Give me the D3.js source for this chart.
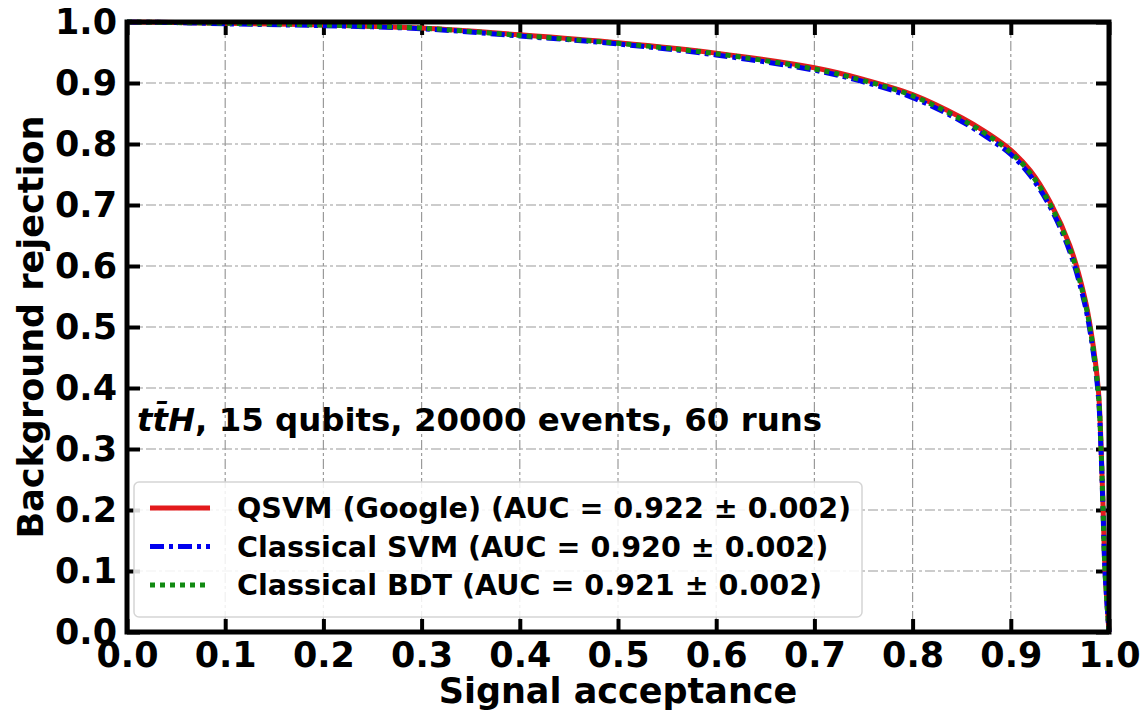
<!DOCTYPE html>
<html>
<head>
<script src="https://d3js.org/d3.v7.min.js"></script>
<style>
  body, html { margin: 0; background: #fff; }
  text { font-family: 'DejaVu Sans', sans-serif; font-weight: bold; fill: #000; }
  .grid line { stroke: #9a9a9a; stroke-width: 1.2px; stroke-dasharray: 10,3,3,3; }
</style>
</head>
<body>
<div id="chart"></div>
<script>
// signal acceptance (x) and background rejection (y)
var accept = [0, 0.05, 0.1, 0.2, 0.3, 0.4, 0.5, 0.6, 0.7, 0.75, 0.8, 0.85, 0.875, 0.9, 0.92, 0.94, 0.96, 0.975, 0.982, 0.989, 0.992, 0.994, 0.996, 1.0];
var qsvm = [1.0, 0.999, 0.998, 0.995, 0.990, 0.979, 0.966, 0.949, 0.925, 0.906, 0.881, 0.843, 0.819, 0.790, 0.756, 0.705, 0.634, 0.550, 0.490, 0.400, 0.302, 0.202, 0.102, 0.0];
var csvm = [1.0, 0.999, 0.997, 0.994, 0.989, 0.977, 0.964, 0.946, 0.921, 0.902, 0.876, 0.837, 0.812, 0.783, 0.748, 0.697, 0.624, 0.540, 0.480, 0.390, 0.293, 0.195, 0.097, 0.0];
var cbdt = [1.0, 0.999, 0.998, 0.995, 0.990, 0.978, 0.965, 0.948, 0.923, 0.904, 0.879, 0.840, 0.816, 0.786, 0.752, 0.701, 0.629, 0.545, 0.485, 0.395, 0.297, 0.198, 0.099, 0.0];
var seriesNames = ["QSVM (Google) (AUC = 0.922 \u00b1 0.002)",
                   "Classical SVM (AUC = 0.920 \u00b1 0.002)",
                   "Classical BDT (AUC = 0.921 \u00b1 0.002)"];
var ticks = [0, 0.1, 0.2, 0.3, 0.4, 0.5, 0.6, 0.7, 0.8, 0.9, 1.0];

var W = 1141, H = 712;
var pL = 127, pR = 1109, pT = 22, pB = 632;

var svg = d3.select("#chart").append("svg").attr("width", W).attr("height", H);

var x = d3.scaleLinear().domain([0, 1]).range([pL, pR]);
var y = d3.scaleLinear().domain([0, 1]).range([pB, pT]);

// grid
var grid = svg.append("g").attr("class", "grid");
grid.selectAll(".gx").data(ticks.slice(1, -1)).enter().append("line")
  .attr("x1", d => x(d)).attr("x2", d => x(d)).attr("y1", pT).attr("y2", pB);
grid.selectAll(".gy").data(ticks.slice(1, -1)).enter().append("line")
  .attr("y1", d => y(d)).attr("y2", d => y(d)).attr("x1", pL).attr("x2", pR);

// axes with inward ticks
var tickSize = 13;
function styleAxis(g) {
  g.select(".domain").remove();
  g.selectAll(".tick line").attr("stroke", "#000").attr("stroke-width", 4);
  g.selectAll(".tick text").attr("font-size", 35).attr("font-family", "'DejaVu Sans', sans-serif").attr("font-weight", "bold").attr("fill", "#000");
}
var fmt = d3.format(".1f");
svg.append("g").attr("transform", "translate(0," + pB + ")")
  .call(d3.axisBottom(x).tickValues(ticks).tickFormat(fmt).tickSizeInner(-tickSize).tickSizeOuter(0).tickPadding(10))
  .call(styleAxis);
svg.append("g").attr("transform", "translate(" + pL + ",0)")
  .call(d3.axisLeft(y).tickValues(ticks).tickFormat(fmt).tickSizeInner(-tickSize).tickSizeOuter(0).tickPadding(10))
  .call(styleAxis);
svg.append("g").attr("transform", "translate(0," + pT + ")")
  .call(d3.axisTop(x).tickValues(ticks).tickFormat("").tickSizeInner(-tickSize).tickSizeOuter(0))
  .call(styleAxis);
svg.append("g").attr("transform", "translate(" + pR + ",0)")
  .call(d3.axisRight(y).tickValues(ticks).tickFormat("").tickSizeInner(-tickSize).tickSizeOuter(0))
  .call(styleAxis);

// curves
var styles = [
  {color: "#e31a1c", dash: null},
  {color: "#0000ee", dash: "14,5,4,5"},
  {color: "#128a12", dash: "5,5"}
];
var series = [qsvm, csvm, cbdt];
var line = d3.line().x(d => x(d[0])).y(d => y(d[1])).curve(d3.curveCatmullRom.alpha(0.5));
series.forEach(function(s, i) {
  svg.append("path")
    .datum(accept.map((a, j) => [a, s[j]]))
    .attr("d", line)
    .attr("fill", "none")
    .attr("stroke", styles[i].color)
    .attr("stroke-width", 5)
    .attr("stroke-dasharray", styles[i].dash);
});

// frame
svg.append("rect").attr("x", pL).attr("y", pT)
  .attr("width", pR - pL).attr("height", pB - pT)
  .attr("fill", "none").attr("stroke", "#000").attr("stroke-width", 5);

// annotation
var ann = svg.append("text").attr("x", 137).attr("y", 431).attr("font-size", 32.4);
ann.append("tspan").attr("font-style", "italic").text("tt\u0304H");
ann.append("tspan").text(", 15 qubits, 20000 events, 60 runs");

// legend
var lg = svg.append("g");
lg.append("rect").attr("x", 134).attr("y", 482).attr("width", 728).attr("height", 135)
  .attr("rx", 5).attr("fill", "#fff").attr("fill-opacity", 0.85)
  .attr("stroke", "#d5d5d5").attr("stroke-width", 1.5);
seriesNames.forEach(function(n, i) {
  var yy = 508 + i * 38.5;
  lg.append("line").attr("x1", 150).attr("x2", 210).attr("y1", yy).attr("y2", yy)
    .attr("stroke", styles[i].color).attr("stroke-width", 5)
    .attr("stroke-dasharray", styles[i].dash);
  lg.append("text").attr("x", 237).attr("y", yy).attr("dy", "0.36em")
    .attr("font-size", 28.6).text(n);
});

// axis titles
svg.append("text").attr("x", (pL + pR) / 2).attr("y", 703)
  .attr("text-anchor", "middle").attr("font-size", 35).text("Signal acceptance");
svg.append("text").attr("transform", "translate(43," + (pT + pB) / 2 + ") rotate(-90)")
  .attr("text-anchor", "middle").attr("font-size", 35).text("Background rejection");
</script>
</body>
</html>
